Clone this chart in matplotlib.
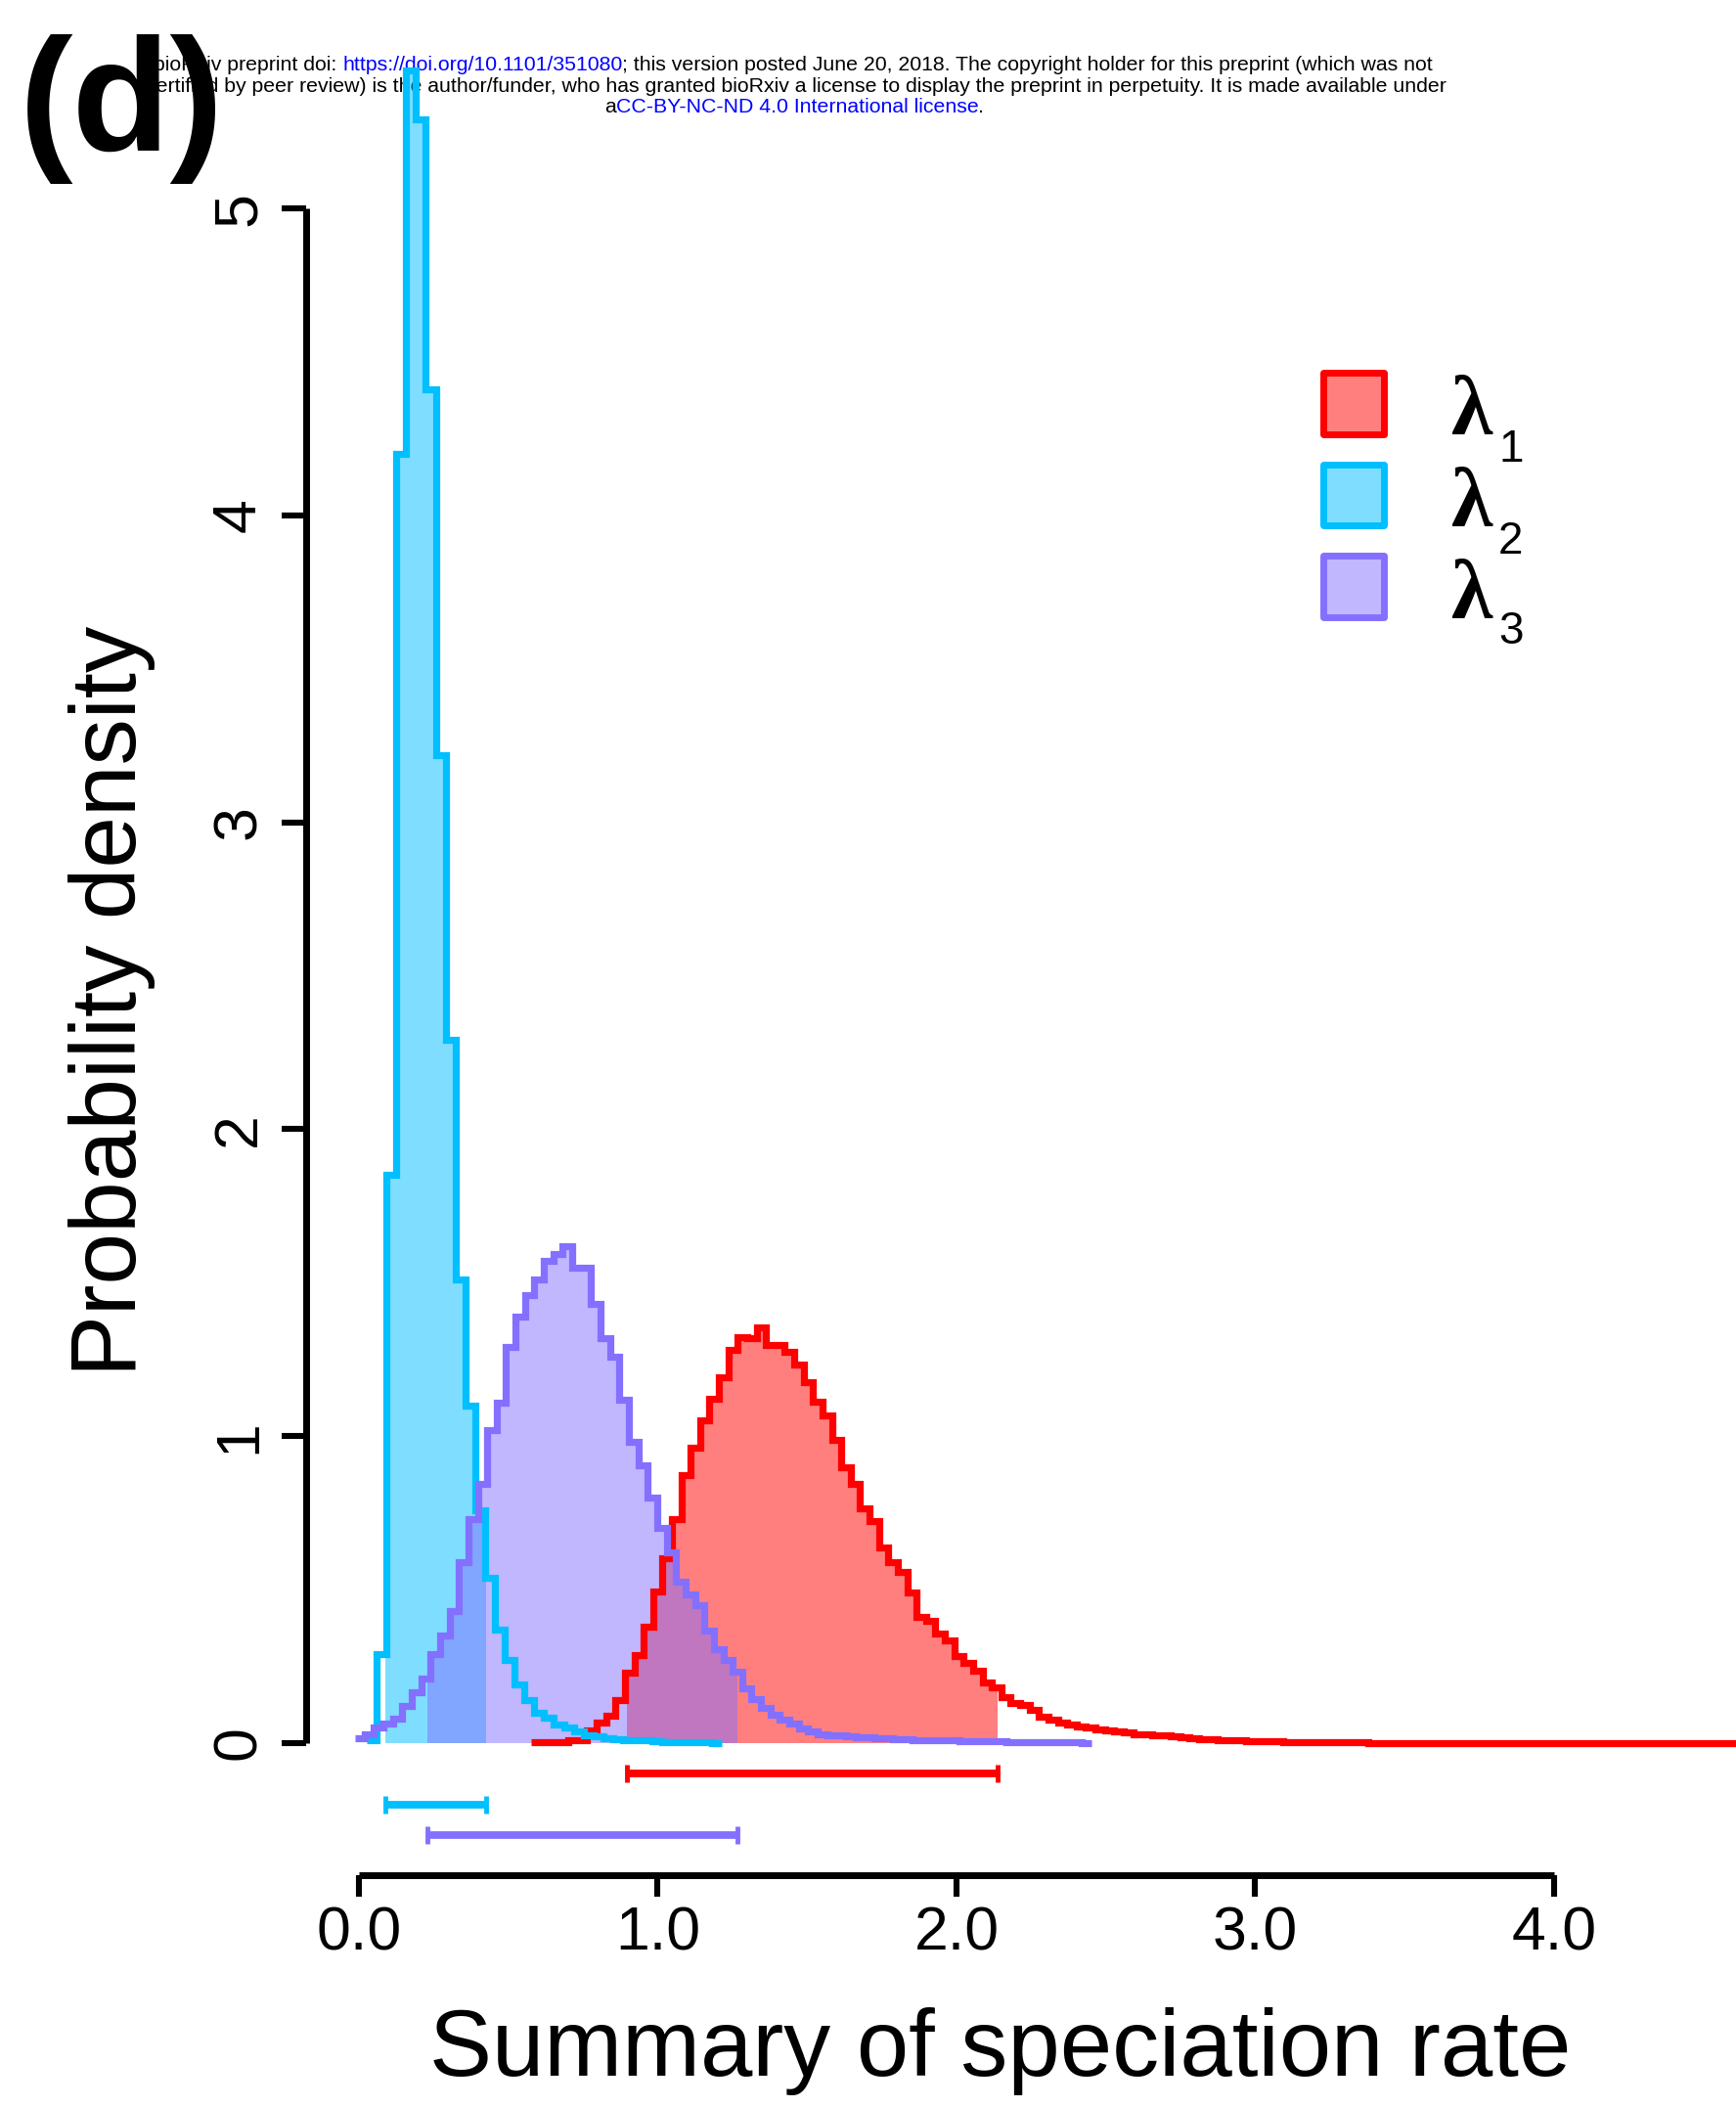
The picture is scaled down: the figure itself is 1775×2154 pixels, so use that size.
import numpy as np
import matplotlib
matplotlib.use("Agg")
import matplotlib.pyplot as plt
from matplotlib.patches import Rectangle

# ---------------- data ----------------
series_names = ["1", "2", "3"]
series_colors = ["#FF0000", "#00BFFF", "#8470FF"]

# lambda_1 (red) histogram: first bin edge, bin width, densities
lam1_start = 0.575
lam1_width = 0.0315
lam1_density = [
    0.003, 0.003, 0.003, 0.004, 0.010, 0.010, 0.043, 0.067, 0.090, 0.140,
    0.228, 0.288, 0.378, 0.495, 0.601, 0.729, 0.872, 0.962, 1.053, 1.122,
    1.191, 1.281, 1.323, 1.318, 1.355, 1.297, 1.297, 1.276, 1.233, 1.175,
    1.111, 1.069, 0.989, 0.899, 0.846, 0.766, 0.723, 0.638, 0.591, 0.559,
    0.490, 0.410, 0.399, 0.357, 0.336, 0.283, 0.261, 0.235, 0.198, 0.182,
    0.150, 0.132, 0.124, 0.108, 0.086, 0.076, 0.068, 0.060, 0.055, 0.050,
    0.046, 0.042, 0.039, 0.034, 0.030, 0.028, 0.027, 0.026, 0.022, 0.018,
    0.016, 0.014, 0.013, 0.011, 0.009, 0.008, 0.007, 0.006, 0.005, 0.005,
    0.004, 0.004, 0.003, 0.003, 0.003, 0.002, 0.002, 0.002, 0.002, 0.001,
    0.001, 0.001, 0.001, 0.001, 0.001, 0.001, 0.000, 0.001, 0.000, 0.000,
    0.001, 0.000, 0.000, 0.000, 0.000, 0.000, 0.000, 0.000, 0.000, 0.000,
    0.000, 0.000, 0.000, 0.000, 0.000, 0.000, 0.000, 0.000, 0.000, 0.000,
    0.000, 0.000, 0.000, 0.000, 0.000, 0.000, 0.000, 0.000, 0.000, 0.000,
    0.000, 0.000,
]

# lambda_2 (cyan)
lam2_start = 0.026
lam2_width = 0.033
lam2_density = [
    0.010, 0.290, 1.850, 4.200, 5.450, 5.290, 4.410, 3.220, 2.290, 1.510,
    1.100, 0.760, 0.540, 0.370, 0.270, 0.190, 0.140, 0.100, 0.083, 0.061,
    0.050, 0.038, 0.027, 0.022, 0.017, 0.012, 0.008, 0.008, 0.008, 0.006,
    0.004, 0.003, 0.003, 0.002, 0.002, 0.001,
]

# lambda_3 (purple)
lam3_start = -0.013
lam3_width = 0.0316
lam3_density = [
    0.015, 0.030, 0.050, 0.065, 0.080, 0.120, 0.165, 0.210, 0.290, 0.350,
    0.430, 0.590, 0.730, 0.845, 1.020, 1.110, 1.290, 1.390, 1.460, 1.510,
    1.570, 1.595, 1.620, 1.550, 1.550, 1.430, 1.320, 1.260, 1.120, 0.980,
    0.905, 0.800, 0.700, 0.620, 0.525, 0.485, 0.450, 0.365, 0.305, 0.270,
    0.232, 0.180, 0.145, 0.115, 0.092, 0.076, 0.065, 0.049, 0.038, 0.030,
    0.027, 0.025, 0.022, 0.020, 0.018, 0.016, 0.015, 0.014, 0.012, 0.011,
    0.010, 0.009, 0.008, 0.008, 0.007, 0.006, 0.006, 0.005, 0.005, 0.004,
    0.004, 0.003, 0.003, 0.003, 0.002, 0.002, 0.002, 0.001,
]

# 95% HPD intervals and the height at which each bar is drawn
hpd_low = [0.897, 0.089, 0.229]
hpd_high = [2.138, 0.426, 1.267]
hpd_bar_y = [-0.1, -0.2, -0.3]

x_ticks = [0, 1, 2, 3, 4]
x_tick_labels = ["0.0", "1.0", "2.0", "3.0", "4.0"]
y_ticks = [0, 1, 2, 3, 4, 5]
y_tick_labels = ["0", "1", "2", "3", "4", "5"]

# ---------------- figure ----------------
W, H, DPI = 1775, 2154, 100
FONT = "Liberation Sans"
fig = plt.figure(figsize=(W / DPI, H / DPI), dpi=DPI)
fig.patch.set_facecolor("white")

ax_left_px, ax_bottom_px = 313, 1917
ax = fig.add_axes([ax_left_px / W, (H - ax_bottom_px) / H,
                   1 - ax_left_px / W, ax_bottom_px / H])
ax.patch.set_visible(False)
ax.set_xlim(-0.1768, 4.609)
ax.set_ylim(-0.4302, 5.679)

starts = [lam1_start, lam2_start, lam3_start]
widths = [lam1_width, lam2_width, lam3_width]
dens_list = [lam1_density, lam2_density, lam3_density]

LW = 5.2
# fills of the HPD region first
for i, (s, w, d) in enumerate(zip(starts, widths, dens_list)):
    d = np.asarray(d, dtype=float)
    edges = s + w * np.arange(len(d) + 1)
    lo, hi = hpd_low[i], hpd_high[i]
    inner = edges[(edges > lo) & (edges < hi)]
    xs = np.concatenate([[lo], inner, [hi]])
    idx = np.clip(np.searchsorted(edges, xs[:-1], side="right") - 1, 0, len(d) - 1)
    ys = np.append(d[idx], d[idx][-1])
    ax.fill_between(xs, 0, ys, step="post", color=series_colors[i],
                    alpha=0.5, lw=0, zorder=1 + i)

# outlines
for i, (s, w, d) in enumerate(zip(starts, widths, dens_list)):
    edges = s + w * np.arange(len(d) + 1)
    ax.stairs(d, edges, baseline=None, color=series_colors[i], lw=LW,
              joinstyle="miter", zorder=5 + i)

# HPD bars
for i in range(3):
    ax.plot([hpd_low[i], hpd_high[i]], [hpd_bar_y[i], hpd_bar_y[i]],
            color=series_colors[i], lw=5.6, solid_capstyle="butt", zorder=8,
            clip_on=False)
    ax.plot([hpd_low[i], hpd_high[i]], [hpd_bar_y[i], hpd_bar_y[i]],
            ls="none", marker="|", markersize=13, mew=3.5,
            color=series_colors[i], zorder=8, clip_on=False)

# axes styling (R-like)
for sp in ["top", "right"]:
    ax.spines[sp].set_visible(False)
ax.spines["left"].set_bounds(0, 5)
ax.spines["bottom"].set_bounds(0, 4)
for sp in ["left", "bottom"]:
    ax.spines[sp].set_linewidth(5.0)
    ax.spines[sp].set_capstyle("butt")
ax.set_xticks(x_ticks)
ax.set_xticklabels(x_tick_labels, fontsize=45, family=FONT)
ax.set_yticks(y_ticks)
ax.set_yticklabels(y_tick_labels, fontsize=45, family=FONT, rotation=90,
                   va="center")
ax.tick_params(axis="x", direction="out", length=16, width=4.4, pad=6)
ax.tick_params(axis="y", direction="out", length=18, width=4.4, pad=10)

# axis titles
fig.text(1023 / W, 1 - 2122 / H, "Summary of speciation rate", fontsize=69,
         family=FONT, ha="center", va="baseline")
fig.text(139 / W, 1 - 1023.5 / H, "Probability density", fontsize=68,
         family=FONT, rotation=90, rotation_mode="anchor",
         ha="center", va="baseline")

# legend
leg_tops = [381.5, 475.5, 568.5]
for i in range(3):
    x0, y0, sz = 1352.5, leg_tops[i], 62
    rect = Rectangle((x0 / W, 1 - (y0 + sz) / H), sz / W, sz / H,
                     transform=fig.transFigure,
                     facecolor=matplotlib.colors.to_rgba(series_colors[i], 0.5),
                     edgecolor=series_colors[i], lw=5, joinstyle="round",
                     zorder=10)
    fig.add_artist(rect)
    fig.text(1484 / W, 1 - (y0 + 63) / H, "\u03bb", fontsize=62,
             family="Liberation Serif", weight="bold", ha="left",
             va="baseline", zorder=10)
    fig.text(1532 / W, 1 - (y0 + 90) / H, series_names[i], fontsize=33,
             family=FONT, ha="left", va="baseline", zorder=10)

# header (behind the plot)
renderer = fig.canvas.get_renderer()
HFS = 15.3


def _w(s):
    t = fig.text(0, 0, s, fontsize=HFS, family=FONT)
    wv = t.get_window_extent(renderer).width
    t.remove()
    return wv


def header_line(pieces, baseline_px, center_px):
    full = "".join(p for p, _ in pieces)
    total = _w(full)
    x = center_px - total / 2
    ref = _w("x")
    for p, c in pieces:
        fig.text(x / W, 1 - baseline_px / H, p, fontsize=HFS, family=FONT,
                 color=c, ha="left", va="baseline", zorder=-1)
        x += _w(p + "x") - ref


header_line([("bioRxiv preprint doi: ", "black"),
             ("https://doi.org/10.1101/351080", "blue"),
             ("; this version posted June 20, 2018. The copyright holder for this preprint (which was not", "black")],
            72, 811)
header_line([("certified by peer review) is the author/funder, who has granted bioRxiv a license to display the preprint in perpetuity. It is made available under", "black")],
            94, 814)
header_line([("a", "black"), ("CC-BY-NC-ND 4.0 International license", "blue"),
             (".", "black")], 115, 812)

# panel label
fig.text(20 / W, 1 - 154 / H, "(d)", fontsize=118, family=FONT,
         weight="bold", ha="left", va="baseline", zorder=20)

fig.savefig("out.png", dpi=DPI, facecolor="white")
